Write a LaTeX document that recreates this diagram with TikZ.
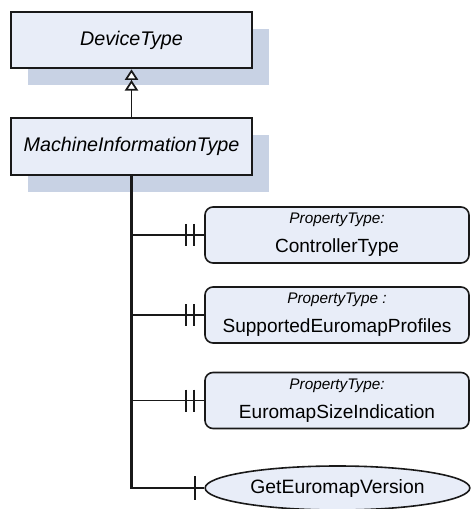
\documentclass[tikz,border=0pt]{standalone}
\usepackage{fontspec}
\setmainfont{Liberation Sans}
\usetikzlibrary{arrows.meta,shadows,shapes.geometric}

\definecolor{boxfill}{RGB}{232,237,248}
\definecolor{shadowfill}{RGB}{200,210,228}
\definecolor{linegray}{RGB}{25,25,25}

\tikzset{every picture/.style={line width=0.75pt}}
\tikzset{
  classbox/.style={draw=linegray, line width=1.5pt, fill=boxfill,
    minimum width=180.75pt, minimum height=42.5pt,
    font=\fontsize{14.8}{17}\selectfont\itshape,
    drop shadow={shadow xshift=12.75pt, shadow yshift=-12.75pt, fill=shadowfill, opacity=1}},
  propbox/.style={draw=linegray, line width=1.2pt, fill=boxfill, rounded corners=6pt,
    minimum width=198pt, minimum height=42pt, align=center,
    font=\fontsize{14.3}{21.5}\selectfont},
  methodell/.style={ellipse, draw=linegray, line width=1.2pt, fill=boxfill,
    minimum width=198.5pt, minimum height=33pt, inner sep=0pt,
    font=\fontsize{14.5}{17}\selectfont},
  link/.style={draw=linegray, line width=1.3pt},
  trunk/.style={draw=linegray, line width=1.6pt},
  bar/.style={draw=linegray, line width=1.5pt},
  inherit/.style={-{Triangle[fill=white,length=8pt,width=10pt,sep=0pt]Triangle[fill=white,length=8pt,width=10pt]}}
}
\newcommand{\proptag}[1]{{\fontsize{11.5}{13}\selectfont\itshape #1}}

\begin{document}
\begin{tikzpicture}[x=0.75pt,y=0.75pt,yscale=-1,xscale=1]
\useasboundingbox (0,0) rectangle (470,509);

%Shape: Rectangle [id:dev]
\node[classbox] (dev) at (131.5,40) {DeviceType};
%Shape: Rectangle [id:mit]
\node[classbox] (mit) at (131.5,146.5) {MachineInformationType};

%Rounded Rect [id:ctrl]
\node[propbox] (ctrl) at (337,235) {\proptag{PropertyType:}\\ControllerType};
%Rounded Rect [id:prof]
\node[propbox] (prof) at (337,315) {\proptag{PropertyType :}\\SupportedEuromapProfiles};
%Rounded Rect [id:size]
\node[propbox] (size) at (337,400.5) {\proptag{PropertyType:}\\EuromapSizeIndication};
%Shape: Ellipse [id:getv]
\node[methodell] (getv) at (337.5,488) {GetEuromapVersion};

%Straight Lines [id:inherit]
\draw[link,inherit] (mit) -- (dev);

%Straight Lines [id:trunk]
\draw[trunk] (mit.south) |- (getv.west);
%Straight Lines [id:ctrl]
\draw[link] (mit.south |- ctrl.west) -- (ctrl.west);
\draw[bar] ([xshift=-13.5pt]ctrl.west) ++(0,-11) -- ++(0,22);
\draw[bar] ([xshift=-7.5pt]ctrl.west) ++(0,-11) -- ++(0,22);
%Straight Lines [id:prof]
\draw[link] (mit.south |- prof.west) -- (prof.west);
\draw[bar] ([xshift=-13.5pt]prof.west) ++(0,-11) -- ++(0,22);
\draw[bar] ([xshift=-7.5pt]prof.west) ++(0,-11) -- ++(0,22);
%Straight Lines [id:size]
\draw[link] (mit.south |- size.west) -- (size.west);
\draw[bar] ([xshift=-13.5pt]size.west) ++(0,-11) -- ++(0,22);
\draw[bar] ([xshift=-7.5pt]size.west) ++(0,-11) -- ++(0,22);
%Straight Lines [id:getv]
\draw[bar] ([xshift=-6.75pt]getv.west) ++(0,-12) -- ++(0,24);

\end{tikzpicture}
\end{document}
